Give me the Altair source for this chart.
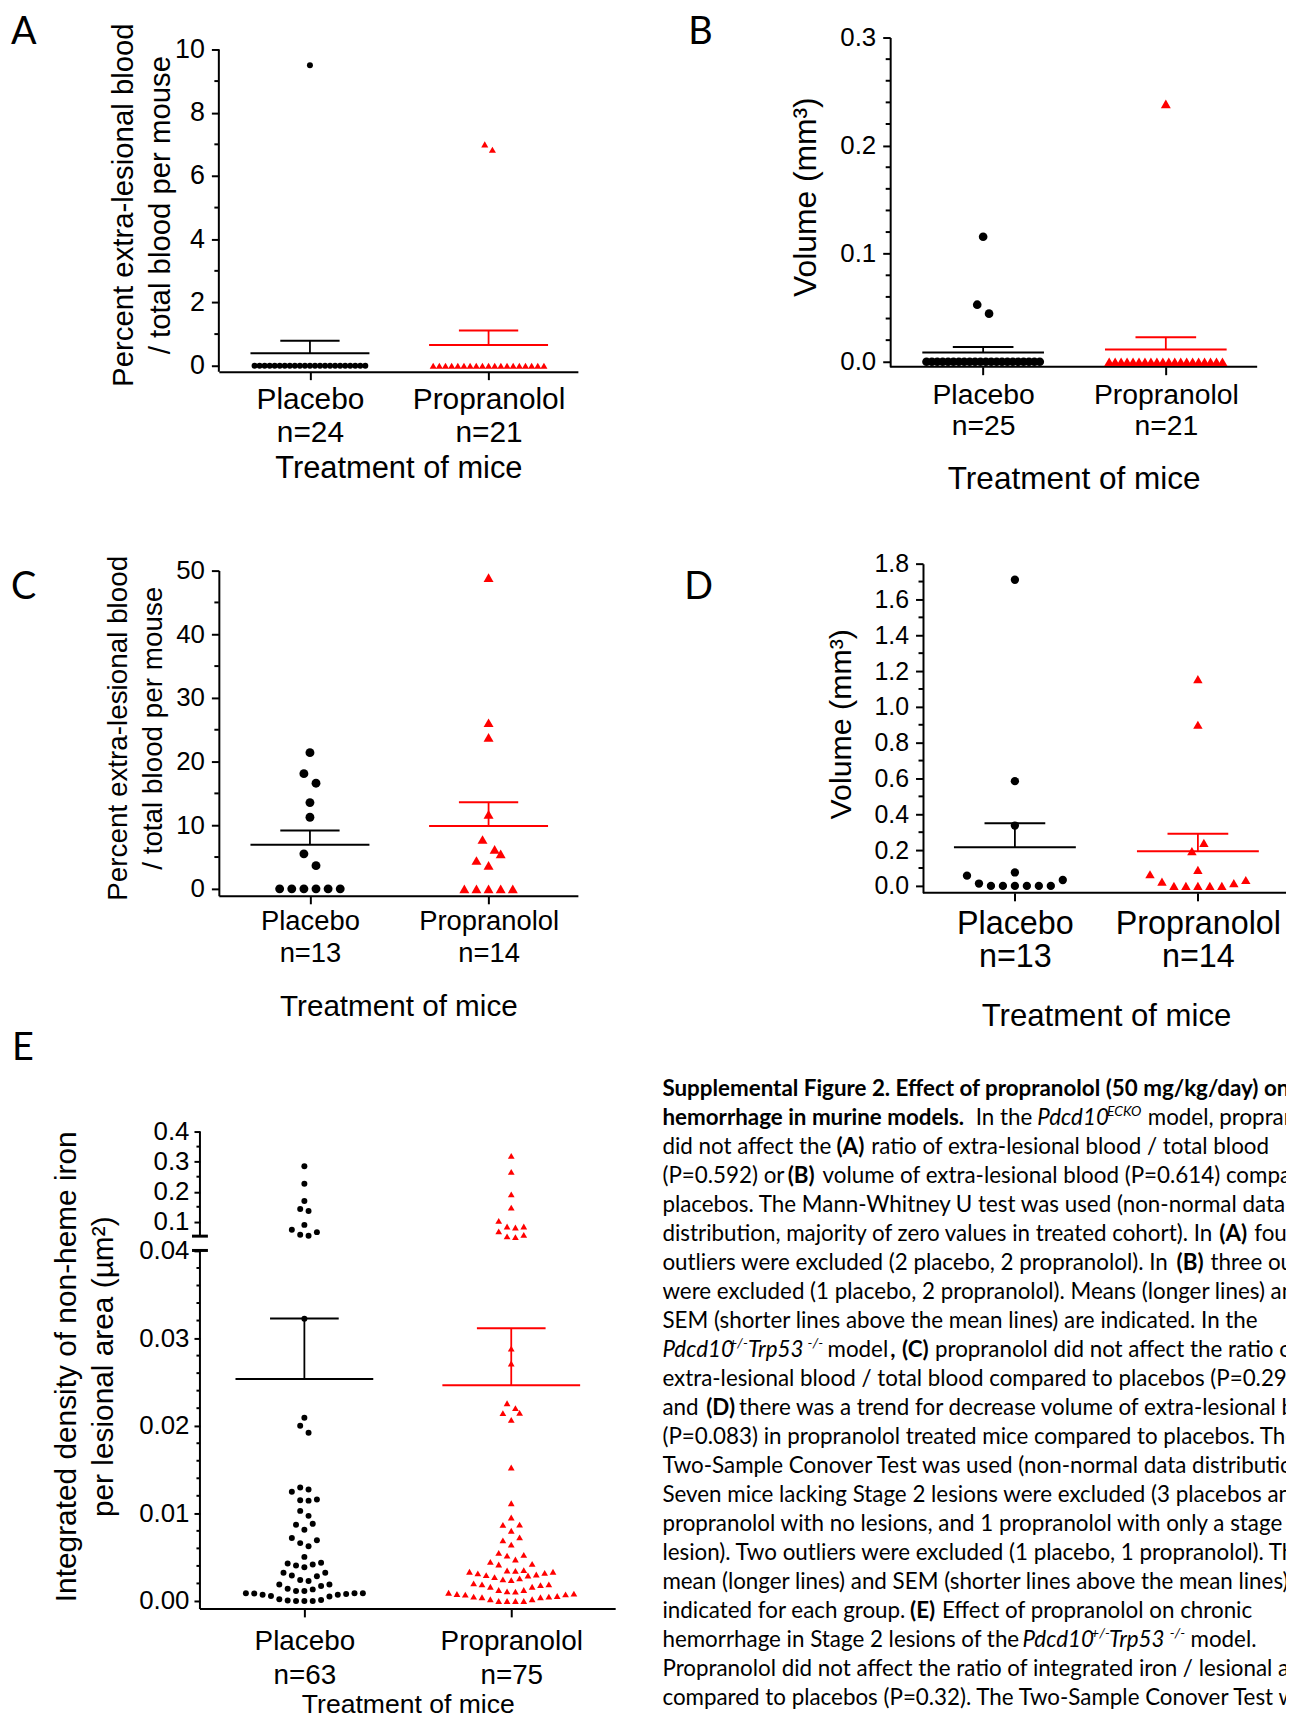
import altair as alt
import numpy as np
import pandas as pd

FONT = "Liberation Sans"
CAP_FONT = "Lato"
GROUPS = ["Placebo", "Propranolol"]
GROUP_COLORS = ["#000000", "#ff0000"]
GROUP_SHAPES = ["circle", "triangle-up"]

# ------------------------------------------------------------------ values
A_placebo = [9.5,
             0, 0, 0, 0, 0, 0, 0, 0, 0, 0, 0, 0, 0, 0, 0, 0, 0, 0, 0, 0, 0, 0, 0]
A_propranolol = [7.0, 6.83,
                 0, 0, 0, 0, 0, 0, 0, 0, 0, 0, 0, 0, 0, 0, 0, 0, 0, 0, 0]
B_placebo = [0.1157, 0.0528, 0.0445,
             0, 0, 0, 0, 0, 0, 0, 0, 0, 0, 0, 0, 0, 0, 0, 0, 0, 0, 0, 0, 0, 0]
B_propranolol = [0.2386,
                 0, 0, 0, 0, 0, 0, 0, 0, 0, 0, 0, 0, 0, 0, 0, 0, 0, 0, 0, 0]
C_placebo = [21.4, 18.1, 16.6, 13.55, 11.25, 5.5, 3.65, 0, 0, 0, 0, 0, 0]
C_propranolol = [48.9, 26.1, 23.8, 11.7, 7.75, 6.2, 5.5, 4.45, 3.7, 0, 0, 0, 0, 0]
D_placebo = [1.71, 0.585, 0.337, 0.075, 0.057, 0.033, 0.013, 0, 0, 0, 0, 0, 0]
D_propranolol = [1.155, 0.9, 0.24, 0.194, 0.089, 0.065, 0.033, 0.024, 0.015,
                 0, 0, 0, 0, 0]
E_placebo = [0.2845, 0.2264, 0.169, 0.1426, 0.136, 0.0898, 0.0733, 0.0657, 0.0568, 0.0535,
             0.0322, 0.0209, 0.0200, 0.0192,
             0.01296, 0.01273, 0.01247, 0.01158, 0.0115, 0.01145, 0.01028, 0.00971,
             0.0088, 0.0087, 0.00813, 0.00718, 0.00692, 0.0066, 0.00624, 0.00503,
             0.00435, 0.00427, 0.00416, 0.00404, 0.00385,
             0.00321, 0.00321, 0.00291, 0.00283, 0.00238, 0.00227,
             0.00189, 0.00189, 0.0017, 0.0014, 0.00132, 0.00113, 0.00113,
             0.00088, 0.00087, 0.00087, 0.00086, 0.00079, 0.00072, 0.00072, 0.00057,
             0.0005, 0.0002, 0.0001, 0.00005, 0.0, 0.0, 0.0]
E_propranolol = [0.3194, 0.266, 0.191, 0.1472, 0.103, 0.0845, 0.0845, 0.0812, 0.068,
                 0.0568, 0.0515, 0.0492,
                 0.0288, 0.0271, 0.02256, 0.022, 0.02146, 0.02143, 0.02067,
                 0.01523, 0.01115, 0.00952, 0.00872, 0.00868, 0.00801, 0.00726, 0.00692,
                 0.00643, 0.00548, 0.00525, 0.00518, 0.00473, 0.00446, 0.00423, 0.00416,
                 0.00352, 0.00348, 0.00344, 0.00333,
                 0.00333, 0.00321, 0.00314,
                 0.00302, 0.00295, 0.00291,
                 0.00272, 0.00257, 0.00246, 0.00238,
                 0.00201, 0.00189, 0.00189, 0.00181, 0.00162, 0.00162,
                 0.00125, 0.00125, 0.0011, 0.00106, 0.00094,
                 0.00083, 0.00079, 0.00076, 0.00072, 0.00057, 0.00049, 0.00049, 0.00042,
                 0.00042, 0.00019, 0.00019, 0.0, 0.0, 0.0, 0.0]

N_LABELS = {"A": ["n=24", "n=21"], "B": ["n=25", "n=21"], "C": ["n=13", "n=14"],
            "D": ["n=13", "n=14"], "E": ["n=63", "n=75"]}

Y_TITLE_BLOOD = ["Percent extra-lesional blood", "/ total blood per mouse"]
Y_TITLE_VOL = "Volume (mm\u00b3)"
Y_TITLE_IRON = ["Integrated density of non-heme iron", "per lesional area (\u00b5m\u00b2)"]
X_TITLE = "Treatment of mice"

# broken axis of panel E: lower part 0..0.04, upper part 0.0524..0.4 compressed above it
E_LOW_TOP = 0.04
E_GAP = 14.4 / 8815.0
E_UP_BOT = 0.0524
E_UP_K = 302.7 / 8815.0


def e_disp(v):
    v = np.asarray(v, float)
    return np.where(v <= E_LOW_TOP, v, E_LOW_TOP + E_GAP + (v - E_UP_BOT) * E_UP_K)


E_EXPR = (f"datum.v <= {E_LOW_TOP} ? datum.v : "
          f"{E_LOW_TOP + E_GAP} + (datum.v - {E_UP_BOT}) * {E_UP_K}")
E_LABEL_EXPR = (f"datum.value > 0.0405 ? format({E_UP_BOT} + (datum.value - {E_LOW_TOP + E_GAP}) / {E_UP_K}, '.1f')"
                f" : format(datum.value, '.2f')")


# ------------------------------------------------------------------ swarm layout
def swarm(vals, ypx, d, xppu, flip=False, span_units=0.62):
    vals = np.asarray(vals, float)
    ypx = np.asarray(ypx, float)
    order = np.argsort(ypx, kind="stable")
    t = 1.5 * d
    s0 = 1.4 * d
    bins, cur, start = [], [], None
    for i in order:
        if cur and ypx[i] - start > t:
            bins.append(cur)
            cur = []
        if not cur:
            start = ypx[i]
        cur.append(i)
    if cur:
        bins.append(cur)
    off = np.zeros(len(vals))
    for b in bins:
        n = len(b)
        s = s0 if n == 1 else min(s0, span_units * xppu / (n - 1))
        if n % 2:
            pat, k = [0.0], 1
            while len(pat) < n:
                pat += [-k, k]
                k += 1
        else:
            pat, k = [], 0.5
            while len(pat) < n:
                pat += [k, -k]
                k += 1
        pat = np.array(pat[:n], float)
        if flip:
            pat = -pat
        for j, i in enumerate(b):
            off[i] = pat[j] * s / xppu
    return off


def make_df(plc, prp, ypx_fn, d, xppu, flip=False):
    rows = []
    for gi, (g, vals) in enumerate(zip(GROUPS, [plc, prp])):
        vals = np.asarray(vals, float)
        offs = swarm(vals, ypx_fn(vals), d, xppu, flip)
        for v, o in zip(vals, offs):
            rows.append({"grp": g, "g": gi + 1, "x": gi + 1 + o, "y": v, "v": v})
    return pd.DataFrame(rows)


# ------------------------------------------------------------------ panel builder
ONE = pd.DataFrame({"t": [""]})


def y_axis(P):
    kw = dict(values=P["yvals"], grid=False, offset=-P["axis_x"],
              domain="yseg" not in P, domainColor="black", domainWidth=2,
              ticks=True, tickColor="black", tickWidth=2, tickSize=P["ytick"],
              labelFont=FONT, labelFontSize=P["ylab_fs"], labelColor="black",
              labelPadding=P["ylab_pad"], labelFlush=False, labelOverlap=False,
              title=P["ytitle"], titleFont=FONT, titleFontSize=P["yt_fs"],
              titleFontWeight="normal", titleColor="black", titleAngle=270,
              titleAlign="center", titleBaseline="top", titleX=P["yt_x"],
              titleY=P["yt_y"], titleLineHeight=P.get("yt_lh", 36))
    if "ylabexpr" in P:
        kw["labelExpr"] = P["ylabexpr"]
    else:
        kw["format"] = P["yfmt"]
    return alt.Axis(**kw)


def x_axis(P, key):
    n1, n2 = N_LABELS[key]
    expr = f"datum.value == 1 ? ['Placebo', '{n1}'] : ['Propranolol', '{n2}']"
    kw = dict(values=[1, 2], labelExpr=expr, grid=False,
              domain="xseg" not in P, domainColor="black", domainWidth=2,
              ticks=True, tickColor="black", tickWidth=2, tickSize=8,
              labelFont=FONT, labelFontSize=P["xlab_fs"], labelColor="black",
              labelLineHeight=P["xlab_lh"], labelPadding=P["xlab_pad"],
              labelBaseline="top", labelAlign="center", labelFlush=False,
              labelOverlap=False,
              title=X_TITLE, titleFont=FONT, titleFontSize=P["xt_fs"],
              titleFontWeight="normal", titleColor="black",
              titleBaseline="top", titleAlign="center", titleY=P["xt_y"])
    if "xt_x" in P:
        kw["titleX"] = P["xt_x"]
    return alt.Axis(**kw)


def build_panel(df, P, key, letter, yexpr=None, breaks=None):
    xs = alt.Scale(domain=P["xdom"], nice=False, zero=False)
    ys = alt.Scale(domain=P["ydom"], nice=False, zero=False)
    X = alt.X("x:Q", scale=xs, axis=x_axis(P, key))
    Y = alt.Y("y:Q", scale=ys, axis=y_axis(P))
    color = alt.Color("grp:N", scale=alt.Scale(domain=GROUPS, range=GROUP_COLORS), legend=None)
    ax = P["axis_x"]

    fx1, fx2, fy1, fy2 = P["frame"]
    frame = alt.Chart(ONE).mark_rect(opacity=0).encode(
        x=alt.value(fx1), x2=alt.value(fx2), y=alt.value(fy1), y2=alt.value(fy2))
    layers = [frame]

    minor = alt.Chart(pd.DataFrame({"y": P["minor"]})).mark_rule(
        color="black", strokeWidth=2).encode(
        x=alt.value(ax), x2=alt.value(ax - P["minor_len"]), y=Y)
    layers.append(minor)

    if "yseg" in P:
        seg = pd.DataFrame(P["yseg"], columns=["y", "y2"])
        layers.append(alt.Chart(seg).mark_rule(color="black", strokeWidth=2).encode(
            x=alt.value(ax), y=Y, y2="y2:Q"))
    if "xseg" in P:
        layers.append(alt.Chart(ONE).mark_rule(color="black", strokeWidth=2).encode(
            x=alt.value(P["xseg"][0]), x2=alt.value(P["xseg"][1]), y=alt.value(P["h"])))
    if breaks is not None:
        layers.append(alt.Chart(pd.DataFrame({"y": breaks})).mark_rule(
            color="black", strokeWidth=3).encode(
            x=alt.value(ax - 8), x2=alt.value(ax + 8), y=Y))

    for g, col, shp, sz in zip(GROUPS, GROUP_COLORS, GROUP_SHAPES, P["msize"]):
        src = alt.Chart(df).transform_filter(f"datum.grp == '{g}'")
        if yexpr:
            src = src.transform_calculate(y=yexpr)
        layers.append(src.mark_point(filled=True, opacity=1, strokeWidth=0, shape=shp,
                                     size=sz, color=col).encode(x=X, y=Y))

    agg = alt.Chart(df).transform_aggregate(m="mean(v)", se="stderr(v)", groupby=["grp", "g"])
    mean_rule = agg.transform_calculate(
        x="datum.g - 0.333", x2="datum.g + 0.333", y="datum.m").mark_rule(
        strokeWidth=2).encode(x=X, x2="x2:Q", y=Y, color=color)
    sem_rule = agg.transform_calculate(
        x="datum.g", y="datum.m", y2="datum.m + datum.se").mark_rule(
        strokeWidth=1.8).encode(x=X, y=Y, y2="y2:Q", color=color)
    cap_rule = agg.transform_calculate(
        x="datum.g - 0.166", x2="datum.g + 0.166", y="datum.m + datum.se").mark_rule(
        strokeWidth=2).encode(x=X, x2="x2:Q", y=Y, color=color)
    layers += [mean_rule, sem_rule, cap_rule]

    lt = alt.Chart(pd.DataFrame({"t": [letter]})).mark_text(
        font=CAP_FONT, fontSize=38, align="left", baseline="alphabetic", color="black").encode(
        text="t:N", x=alt.value(P["let_x"]), y=alt.value(P["let_y"]))
    layers.append(lt)
    return alt.layer(*layers).properties(width=P["w"], height=P["h"])


# ------------------------------------------------------------------ panels
# Column 1 plots share the left origin x=220 (page), column 2 plots share x=666.
# frame = invisible box (relative to the plot origin) that fixes each panel's cell.
PA = dict(w=361, h=336, xdom=[0.49, 2.5], ydom=[-0.189, 10.377], yvals=[0, 2, 4, 6, 8, 10],
          yfmt="d", minor=[1, 3, 5, 7, 9], yseg=[(-0.189, 10)], axis_x=0,
          ytick=7.5, minor_len=4.5, ylab_fs=27, ylab_pad=7,
          ytitle=Y_TITLE_BLOOD, yt_fs=29.5, yt_x=-110, yt_y=168, yt_lh=37.4,
          xlab_fs=30, xlab_lh=33, xlab_pad=5, xt_fs=31, xt_y=82,
          msize=[36, 50], let_x=-209, let_y=7, frame=[-212, 435, -25, 472])
PB = dict(w=598, h=331, xdom=[-0.7556, 2.5], ydom=[-0.0046, 0.3], yvals=[0, 0.1, 0.2, 0.3],
          yfmt=".1f", minor=[0.02, 0.04, 0.06, 0.08, 0.12, 0.14, 0.16, 0.18, 0.22, 0.24, 0.26, 0.28],
          axis_x=229, xseg=(229, 598),
          ytick=7.5, minor_len=4.5, ylab_fs=26, ylab_pad=7,
          ytitle=Y_TITLE_VOL, yt_fs=32, yt_x=-100, yt_y=160,
          xlab_fs=28.5, xlab_lh=31.7, xlab_pad=5.5, xt_fs=31.7, xt_y=97, xt_x=413.5,
          msize=[76, 100], let_x=26, let_y=7, frame=[-11, 628, -25, 472])
PC = dict(w=361, h=327, xdom=[0.49, 2.5], ydom=[-1.094, 50], yvals=[0, 10, 20, 30, 40, 50],
          yfmt="d", minor=[5, 15, 25, 35, 45], axis_x=0,
          ytick=7.5, minor_len=4.5, ylab_fs=26, ylab_pad=7,
          ytitle=Y_TITLE_BLOOD, yt_fs=28, yt_x=-115, yt_y=158, yt_lh=35.4,
          xlab_fs=27.5, xlab_lh=32, xlab_pad=4.2, xt_fs=29.8, xt_y=96,
          msize=[80, 100], let_x=-209, let_y=29, frame=[-212, 435, -64, 455])
PD = dict(w=627, h=331, xdom=[-0.92609, 2.4815], ydom=[-0.0389, 1.8],
          yvals=[0, 0.2, 0.4, 0.6, 0.8, 1.0, 1.2, 1.4, 1.6, 1.8], yfmt=".1f",
          minor=[0.1, 0.3, 0.5, 0.7, 0.9, 1.1, 1.3, 1.5, 1.7],
          axis_x=262, xseg=(262, 627),
          ytick=7.5, minor_len=4.5, ylab_fs=25, ylab_pad=7,
          ytitle=Y_TITLE_VOL, yt_fs=30.5, yt_x=-97, yt_y=161,
          xlab_fs=32.5, xlab_lh=33.3, xlab_pad=6.5, xt_fs=31.3, xt_y=108, xt_x=446,
          msize=[70, 90], let_x=22, let_y=36, frame=[-11, 628, -57, 483])

E_major = [0, 0.01, 0.02, 0.03, 0.04] + list(e_disp([0.1, 0.2, 0.3, 0.4]))
E_minor = [0.002, 0.004, 0.006, 0.008, 0.012, 0.014, 0.016, 0.018, 0.022, 0.024,
           0.026, 0.028, 0.032, 0.034, 0.036, 0.038] + list(e_disp([0.15, 0.25, 0.35]))
PE = dict(w=399, h=480, xdom=[0.58654, 2.5048], ydom=[-0.00091, float(e_disp(0.4))],
          yvals=E_major, ylabexpr=E_LABEL_EXPR, minor=E_minor,
          yseg=[(-0.00091, E_LOW_TOP), (float(e_disp(E_UP_BOT)), float(e_disp(0.4)))],
          axis_x=-19, xseg=(-19, 399),
          ytick=6, minor_len=3.5, ylab_fs=26, ylab_pad=5,
          ytitle=Y_TITLE_IRON, yt_fs=30, yt_x=-149, yt_y=236, yt_lh=37.5,
          xlab_fs=28, xlab_lh=34, xlab_pad=11, xt_fs=26.7, xt_y=83, xt_x=190,
          msize=[36, 46], let_x=-208, let_y=-72, frame=[-212, 435, -109, 589])

dfA = make_df(A_placebo, A_propranolol, lambda v: v * 31.8, 5.5, 179.6)
dfB = make_df(B_placebo, B_propranolol, lambda v: v * 1086.7, 8.5, 183.7)
dfC = make_df(C_placebo, C_propranolol, lambda v: v * 6.4, 8.7, 179.6)
dfD = make_df(D_placebo, D_propranolol, lambda v: v * 180.0, 8.6, 184.0, flip=True)
dfE = make_df(E_placebo, E_propranolol, lambda v: e_disp(v) * 8815.0, 6.0, 208.0)

panelA = build_panel(dfA, PA, "A", "A")
panelB = build_panel(dfB, PB, "B", "B")
panelC = build_panel(dfC, PC, "C", "C")
panelD = build_panel(dfD, PD, "D", "D")
panelE = build_panel(dfE, PE, "E", "E", yexpr=E_EXPR,
                     breaks=[E_LOW_TOP, float(e_disp(E_UP_BOT))])

# ------------------------------------------------------------------ caption
CAP_X0 = 666
CAP_W = 627
CAP_H = 675
CAPTION = [
    (0, 666, "b", "Supplemental Figure 2. Effect of propranolol (50 mg/kg/day) on"),
    (1, 666, "b", "hemorrhage in murine models."),
    (1, 981, "n", "In the"),
    (1, 1043, "i", "Pdcd10"),
    (1, 1113, "si", "ECKO"),
    (1, 1154, "n", "model, propranolol"),
    (2, 666, "n", "did not affect the"),
    (2, 841, "b", "(A)"),
    (2, 876, "n", "ratio of extra-lesional blood / total blood"),
    (3, 666, "n", "(P=0.592) or"),
    (3, 792, "b", "(B)"),
    (3, 827, "n", "volume of extra-lesional blood (P=0.614) compared to"),
    (4, 666, "n", "placebos. The Mann-Whitney U test was used (non-normal data"),
    (5, 666, "n", "distribution, majority of zero values in treated cohort). In"),
    (5, 1226, "b", "(A)"),
    (5, 1261, "n", "four"),
    (6, 666, "n", "outliers were excluded (2 placebo, 2 propranolol). In"),
    (6, 1183, "b", "(B)"),
    (6, 1217, "n", "three outliers"),
    (7, 666, "n", "were excluded (1 placebo, 2 propranolol). Means (longer lines) and"),
    (8, 666, "n", "SEM (shorter lines above the mean lines) are indicated. In the"),
    (9, 666, "i", "Pdcd10"),
    (9, 733, "si", "+/-"),
    (9, 752, "i", "Trp53"),
    (9, 812, "si", "-/-"),
    (9, 832, "n", "model"),
    (9, 895, "b", ","),
    (9, 907, "b", "(C)"),
    (9, 940, "n", "propranolol did not affect the ratio of"),
    (10, 666, "n", "extra-lesional blood / total blood compared to placebos (P=0.291)"),
    (11, 666, "n", "and"),
    (11, 710, "b", "(D)"),
    (11, 743, "n", "there was a trend for decrease volume of extra-lesional blood"),
    (12, 666, "n", "(P=0.083) in propranolol treated mice compared to placebos. The"),
    (13, 666, "n", "Two-Sample Conover Test was used (non-normal data distribution)."),
    (14, 666, "n", "Seven mice lacking Stage 2 lesions were excluded (3 placebos and"),
    (15, 666, "n", "propranolol with no lesions, and 1 propranolol with only a stage 1"),
    (16, 666, "n", "lesion). Two outliers were excluded (1 placebo, 1 propranolol). The"),
    (17, 666, "n", "mean (longer lines) and SEM (shorter lines above the mean lines) are"),
    (18, 666, "n", "indicated for each group."),
    (18, 915, "b", "(E)"),
    (18, 947, "n", "Effect of propranolol on chronic"),
    (19, 666, "n", "hemorrhage in Stage 2 lesions of the"),
    (19, 1028, "i", "Pdcd10"),
    (19, 1097, "si", "+/-"),
    (19, 1115, "i", "Trp53"),
    (19, 1176, "si", "-/-"),
    (19, 1197, "n", "model."),
    (20, 666, "n", "Propranolol did not affect the ratio of integrated iron / lesional area"),
    (21, 666, "n", "compared to placebos (P=0.32). The Two-Sample Conover Test was"),
]
cap_df = pd.DataFrame(CAPTION, columns=["line", "px", "style", "text"])
cap_df["xp"] = cap_df["px"] - CAP_X0

CAP_STYLES = {
    "n": dict(fontSize=22.5, fontWeight="normal", fontStyle="normal", dy=0),
    "b": dict(fontSize=22.5, fontWeight="bold", fontStyle="normal", dy=0),
    "i": dict(fontSize=22.5, fontWeight="normal", fontStyle="italic", dy=0),
    "si": dict(fontSize=14, fontWeight="normal", fontStyle="italic", dy=-9),
}
cap_x = alt.X("xp:Q", scale=alt.Scale(domain=[0, CAP_W], range=[0, CAP_W]), axis=None)
cap_y = alt.Y("line:Q", scale=alt.Scale(domain=[0, 21], range=[52.3, 52.3 + 21 * 29.15]), axis=None)
cap_layers = [alt.Chart(ONE).mark_rect(opacity=0).encode(
    x=alt.value(-11), x2=alt.value(628), y=alt.value(0), y2=alt.value(677))]
for st, props in CAP_STYLES.items():
    cap_layers.append(
        alt.Chart(cap_df).transform_filter(f"datum.style == '{st}'").mark_text(
            font=CAP_FONT, align="left", baseline="alphabetic", color="black", clip=True,
            **props).encode(x=cap_x, y=cap_y, text="text:N"))
caption = alt.layer(*cap_layers).properties(width=CAP_W, height=CAP_H)

# ------------------------------------------------------------------ layout
col1 = alt.concat(panelA, panelC, panelE, columns=1, spacing=0, align="none")
col2 = alt.concat(panelB, panelD, caption, columns=1, spacing=0, align="none")
chart = alt.concat(col1, col2, columns=2, spacing=0, align="none").properties(
    padding={"left": 0, "top": 0, "right": 0, "bottom": 0}, background="white"
).configure_view(strokeWidth=0)

chart.save("out.html", embed_options={"renderer": "svg", "actions": False})
